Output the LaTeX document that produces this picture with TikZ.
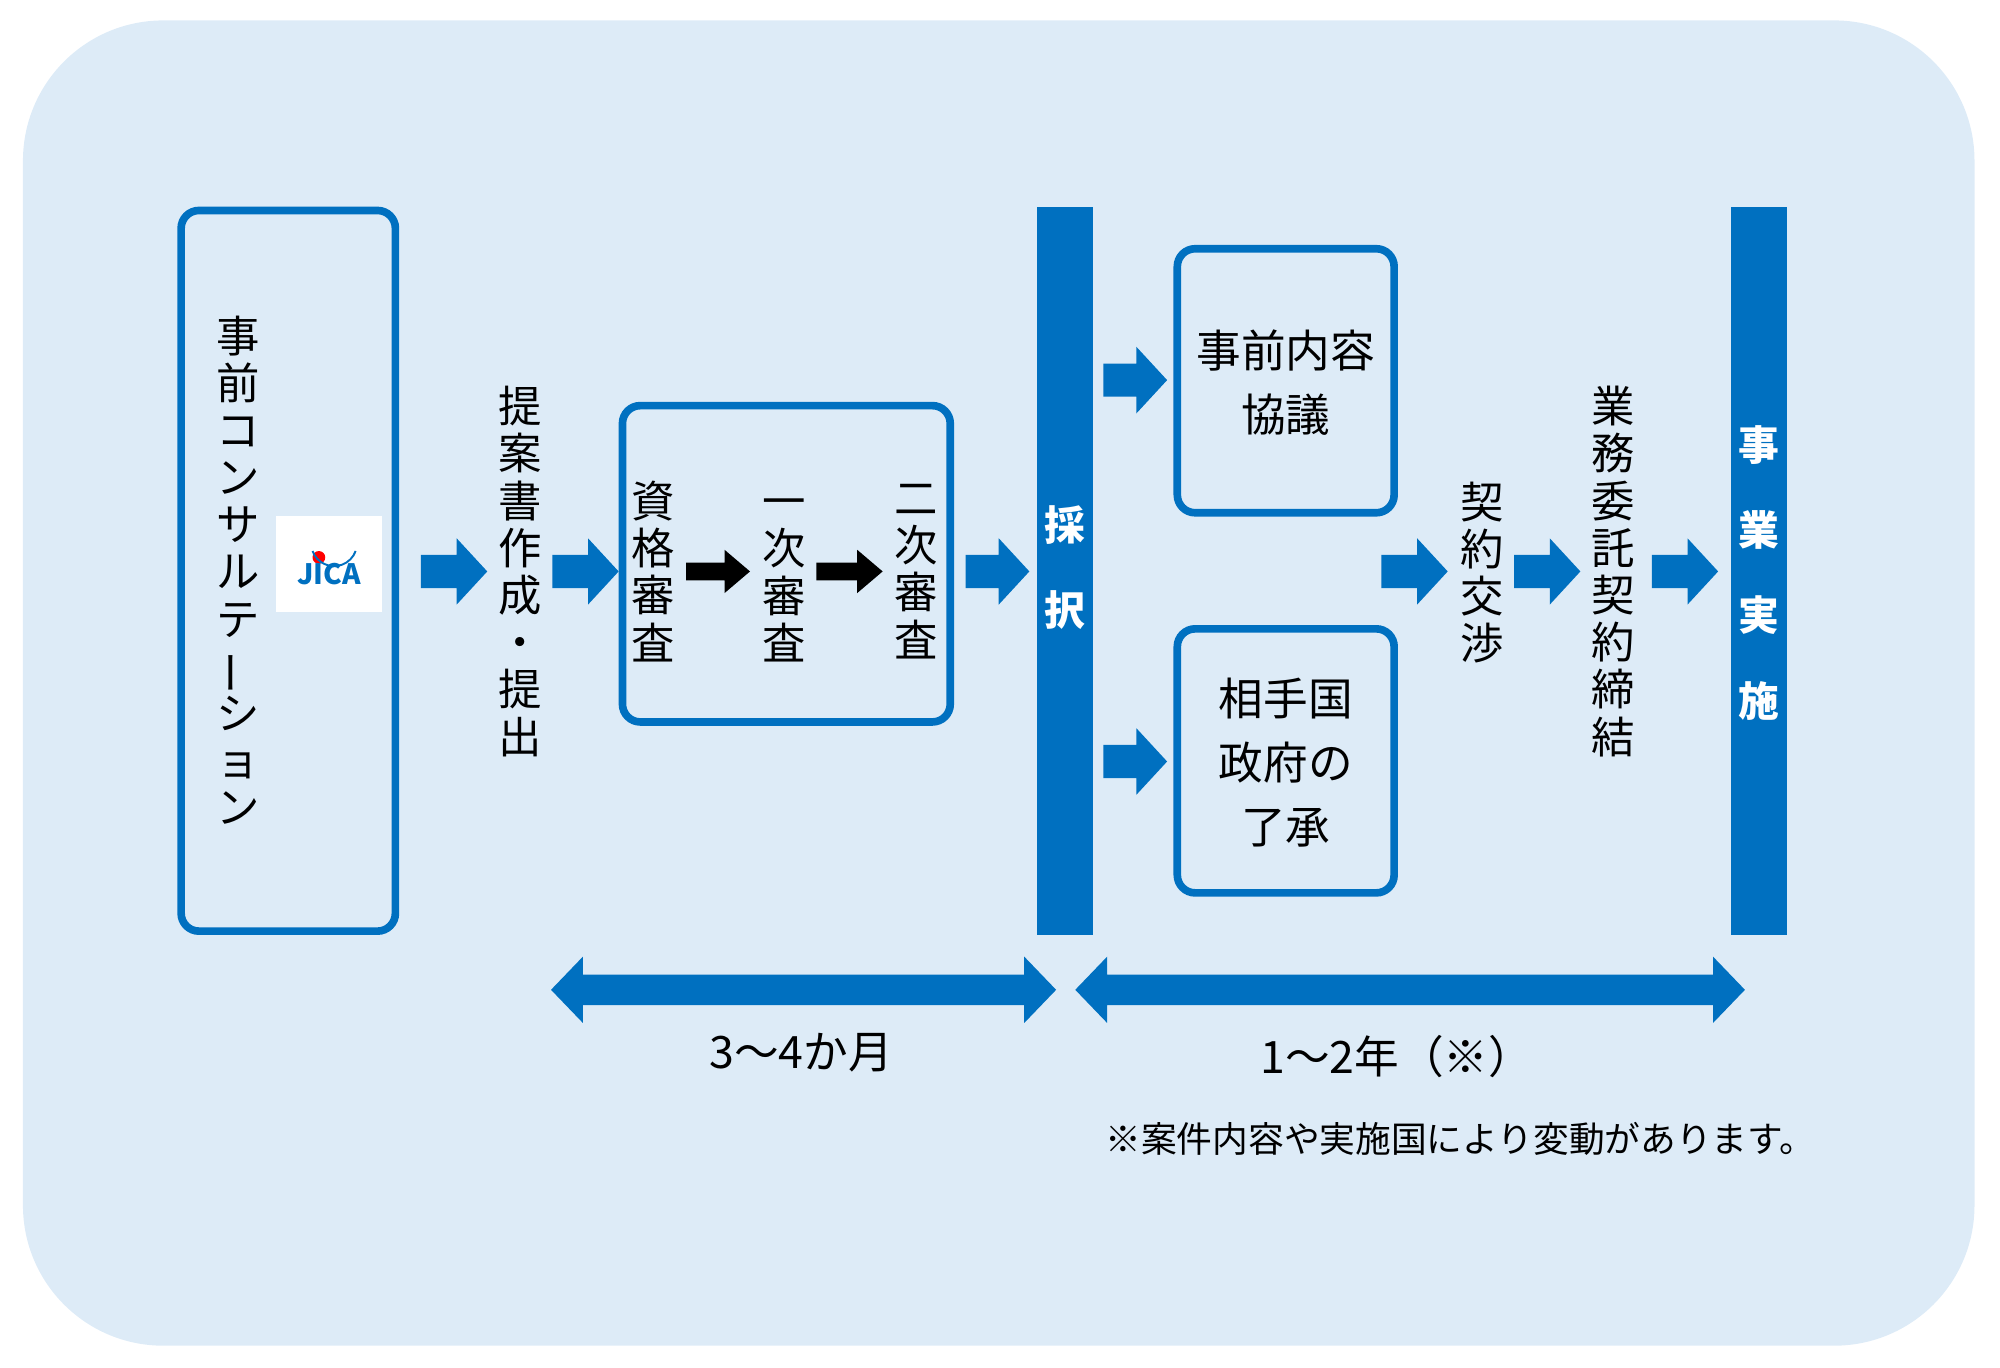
\documentclass[tikz,border=0pt]{standalone}
\usepackage{fontspec}
\usepackage{graphicx}
\setmainfont{Noto Sans CJK JP}
\definecolor{jb}{HTML}{0070C0}
\definecolor{bg}{HTML}{DDEBF7}
\newcommand\vb{\rotatebox[origin=c]{90}{ー}}
% \barr{name}{x1}{x2}{y}{shaft half}{head half}{head len}{color}
\newcommand\barr[8]{\coordinate (#1) at (#2,#4);
 \fill[#8] (#2,#4-#5) -- (#3-#7,#4-#5) -- (#3-#7,#4-#6) -- (#3,#4) -- (#3-#7,#4+#6) -- (#3-#7,#4+#5) -- (#2,#4+#5) -- cycle;}
\newcommand\darr[7]{\coordinate (#1) at (#2,#4);
 \fill[jb] (#2,#4) -- (#2+#7,#4-#6) -- (#2+#7,#4-#5) -- (#3-#7,#4-#5) -- (#3-#7,#4-#6) -- (#3,#4) -- (#3-#7,#4+#6) -- (#3-#7,#4+#5) -- (#2+#7,#4+#5) -- (#2+#7,#4+#6) -- cycle;}
\begin{document}
\begin{tikzpicture}[x=1pt,y=-1pt,
 box/.style={draw=jb,line width=6pt,rounded corners=14pt},
 vt/.style={align=center,font=\fontsize{34}{37}\selectfont,inner sep=0pt},
 ht/.style={align=center,font=\fontsize{35}{50}\selectfont,inner sep=0pt},
 bar/.style={fill=jb,draw=none},
 barT/.style={text=white,font=\fontsize{32}{67}\selectfont\bfseries,align=center,inner sep=0pt}]
\useasboundingbox (0,0) rectangle (1568,1072);
\fill[bg,rounded corners=110pt] (18,16) rectangle (1548,1055);
\draw[box] (142,165) rectangle (310,730);
\node[vt] (t1) at (187,447) {事\\前\\コ\\ン\\サ\\ル\\テ\\\vb\\シ\\ョ\\ン};
\node[fill=white,minimum width=83pt,minimum height=75pt,inner sep=0pt] (logo) at (258,442) {};
\fill[red] (250,437) circle (5pt);
\node[text=jb,font=\fontsize{22}{22}\selectfont\bfseries\itshape,inner sep=0pt] (jica) at (258,450) {JICA};
\draw[jb,line width=1.5pt] (245,432) arc (160:20:18);
\barr{a1}{330}{382}{448}{13}{26}{24}{jb}
\node[vt] (t2) at (408,448) {提\\案\\書\\作\\成\\・\\提\\出};
\barr{a2}{433}{485}{448}{13}{26}{24}{jb}
\draw[box] (488,318) rectangle (745,566);
\node[vt] (s1) at (512,448) {資\\格\\審\\査};
\barr{b1}{538}{588}{448}{7}{17}{20}{black}
\node[vt] (s2) at (615,455) {一\\次\\審\\査};
\barr{b2}{640}{692}{448}{7}{17}{20}{black}
\node[vt] (s3) at (718,448) {二\\次\\審\\査};
\barr{a3}{757}{807}{448}{13}{26}{24}{jb}
\fill[bar] (813,162) rectangle (857,733);
\node[barT] (sai) at (835,445) {採\\択};
\barr{a4}{865}{915}{298}{13}{26}{24}{jb}
\barr{a5}{865}{915}{597}{13}{26}{24}{jb}
\draw[box] (923,195) rectangle (1093,402);
\node[ht] (k1) at (1008,300) {事前内容\\協議};
\draw[box] (923,493) rectangle (1093,700);
\node[ht] (k2) at (1008,598) {相手国\\政府の\\了承};
\barr{a6}{1083}{1135}{448}{13}{26}{24}{jb}
\node[vt] (t3) at (1162,449) {契\\約\\交\\渉};
\barr{a7}{1187}{1239}{448}{13}{26}{24}{jb}
\node[vt] (t4) at (1265,448) {業\\務\\委\\託\\契\\約\\締\\結};
\barr{a8}{1295}{1347}{448}{13}{26}{24}{jb}
\fill[bar] (1357,162) rectangle (1401,733);
\node[barT] (ji) at (1379,449) {事\\業\\実\\施};
\darr{d1}{432}{828}{776}{12}{26}{25}
\darr{d2}{843}{1368}{776}{12}{26}{25}
\node[font=\fontsize{35}{35}\selectfont] (l1) at (628,825) {3〜4か月};
\node[font=\fontsize{35}{35}\selectfont] (l2) at (1095,828) {1〜2年（※）};
\node[font=\fontsize{28}{28}\selectfont] (l3) at (1145,893) {※案件内容や実施国により変動があります。};
\end{tikzpicture}
\end{document}
